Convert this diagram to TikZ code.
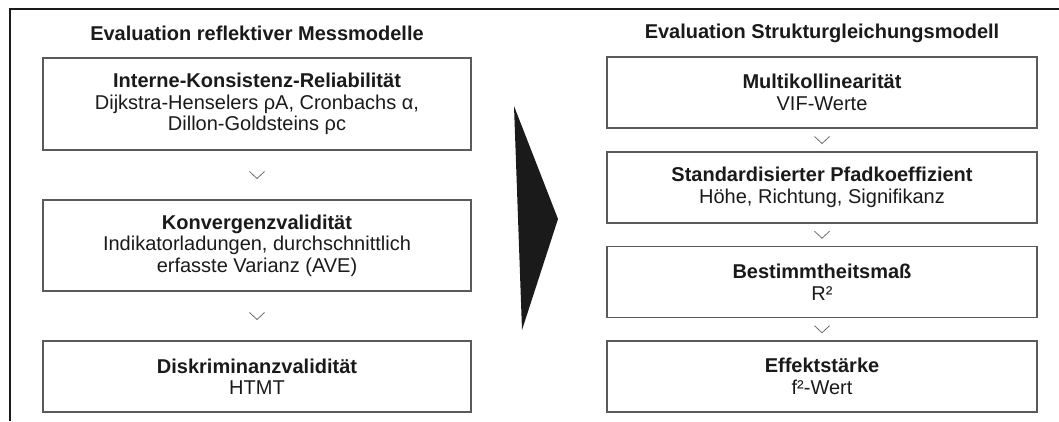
\documentclass[tikz,border=0pt]{standalone}
\usepackage{fontspec}
\setmainfont{Liberation Sans}
\usetikzlibrary{calc}
\definecolor{ink}{HTML}{1A1A1A}
\definecolor{boxline}{HTML}{5A5A5A}
\definecolor{chev}{HTML}{6A6A6A}
\begin{document}
\begin{tikzpicture}[x=1pt,y=-1pt,
  txt/.style={font=\fontsize{20}{21.5}\selectfont, text=ink, align=center},
  title/.style={txt, font=\fontsize{20}{21.5}\selectfont\bfseries},
  stepbox/.style={txt, draw=boxline, line width=1.4pt, rectangle, inner sep=0pt},
  leftbox/.style={stepbox, minimum width=428pt},
  rightbox/.style={stepbox, minimum width=430pt, minimum height=71pt},
  chevron/.style={draw=chev, line width=0.8pt}
]
\useasboundingbox (0,0) rectangle (1059,421);

% frame edges
\draw[line width=2pt, ink] (1059,9) -- (10,9) -- (10,421);

% column titles
\node[title] (tl) at (257,33) {Evaluation reflektiver Messmodelle};
\node[title] (tr) at (822,33) {Evaluation Strukturgleichungsmodell};

% measurement model steps
\node[leftbox, minimum height=92pt] (l1) at (257,104)
  {\textbf{Interne-Konsistenz-Reliabilität}\\Dijkstra-Henselers ρA, Cronbachs α,\\Dillon-Goldsteins ρc};
\node[leftbox, minimum height=91pt] (l2) at (257,245.5)
  {\textbf{Konvergenzvalidität}\\Indikatorladungen, durchschnittlich\\erfasste Varianz (AVE)};
\node[leftbox, minimum height=71pt] (l3) at (257,376.5)
  {\textbf{Diskriminanzvalidität}\\HTMT};

% structural model steps
\node[rightbox] (r1) at (822,92.5) {\textbf{Multikollinearität}\\VIF-Werte};
\node[rightbox] (r2) at (822,187.5) {\textbf{Standardisierter Pfadkoeffizient}\\Höhe, Richtung, Signifikanz};
\node[rightbox] (r3) at (822,282) {\textbf{Bestimmtheitsmaß}\\R²};
\node[rightbox] (r4) at (822,376.5) {\textbf{Effektstärke}\\f²-Wert};

% chevrons between consecutive steps
\foreach \a/\b in {l1/l2, l2/l3, r1/r2, r2/r3, r3/r4} {
  \coordinate (m-\a) at ($(\a.south)!0.5!(\b.north)$);
  \draw[chevron] ($(m-\a)+(-7.5,-3.5)$) -- ($(m-\a)+(0,3.5)$) -- ($(m-\a)+(7.5,-3.5)$);
}

% transition arrow between the two columns
\coordinate (ta) at (514,106);
\coordinate (tb) at (558,219);
\coordinate (tc) at (522,330);
\fill[ink] (ta) -- (tb) -- (tc) -- cycle;
\end{tikzpicture}
\end{document}
